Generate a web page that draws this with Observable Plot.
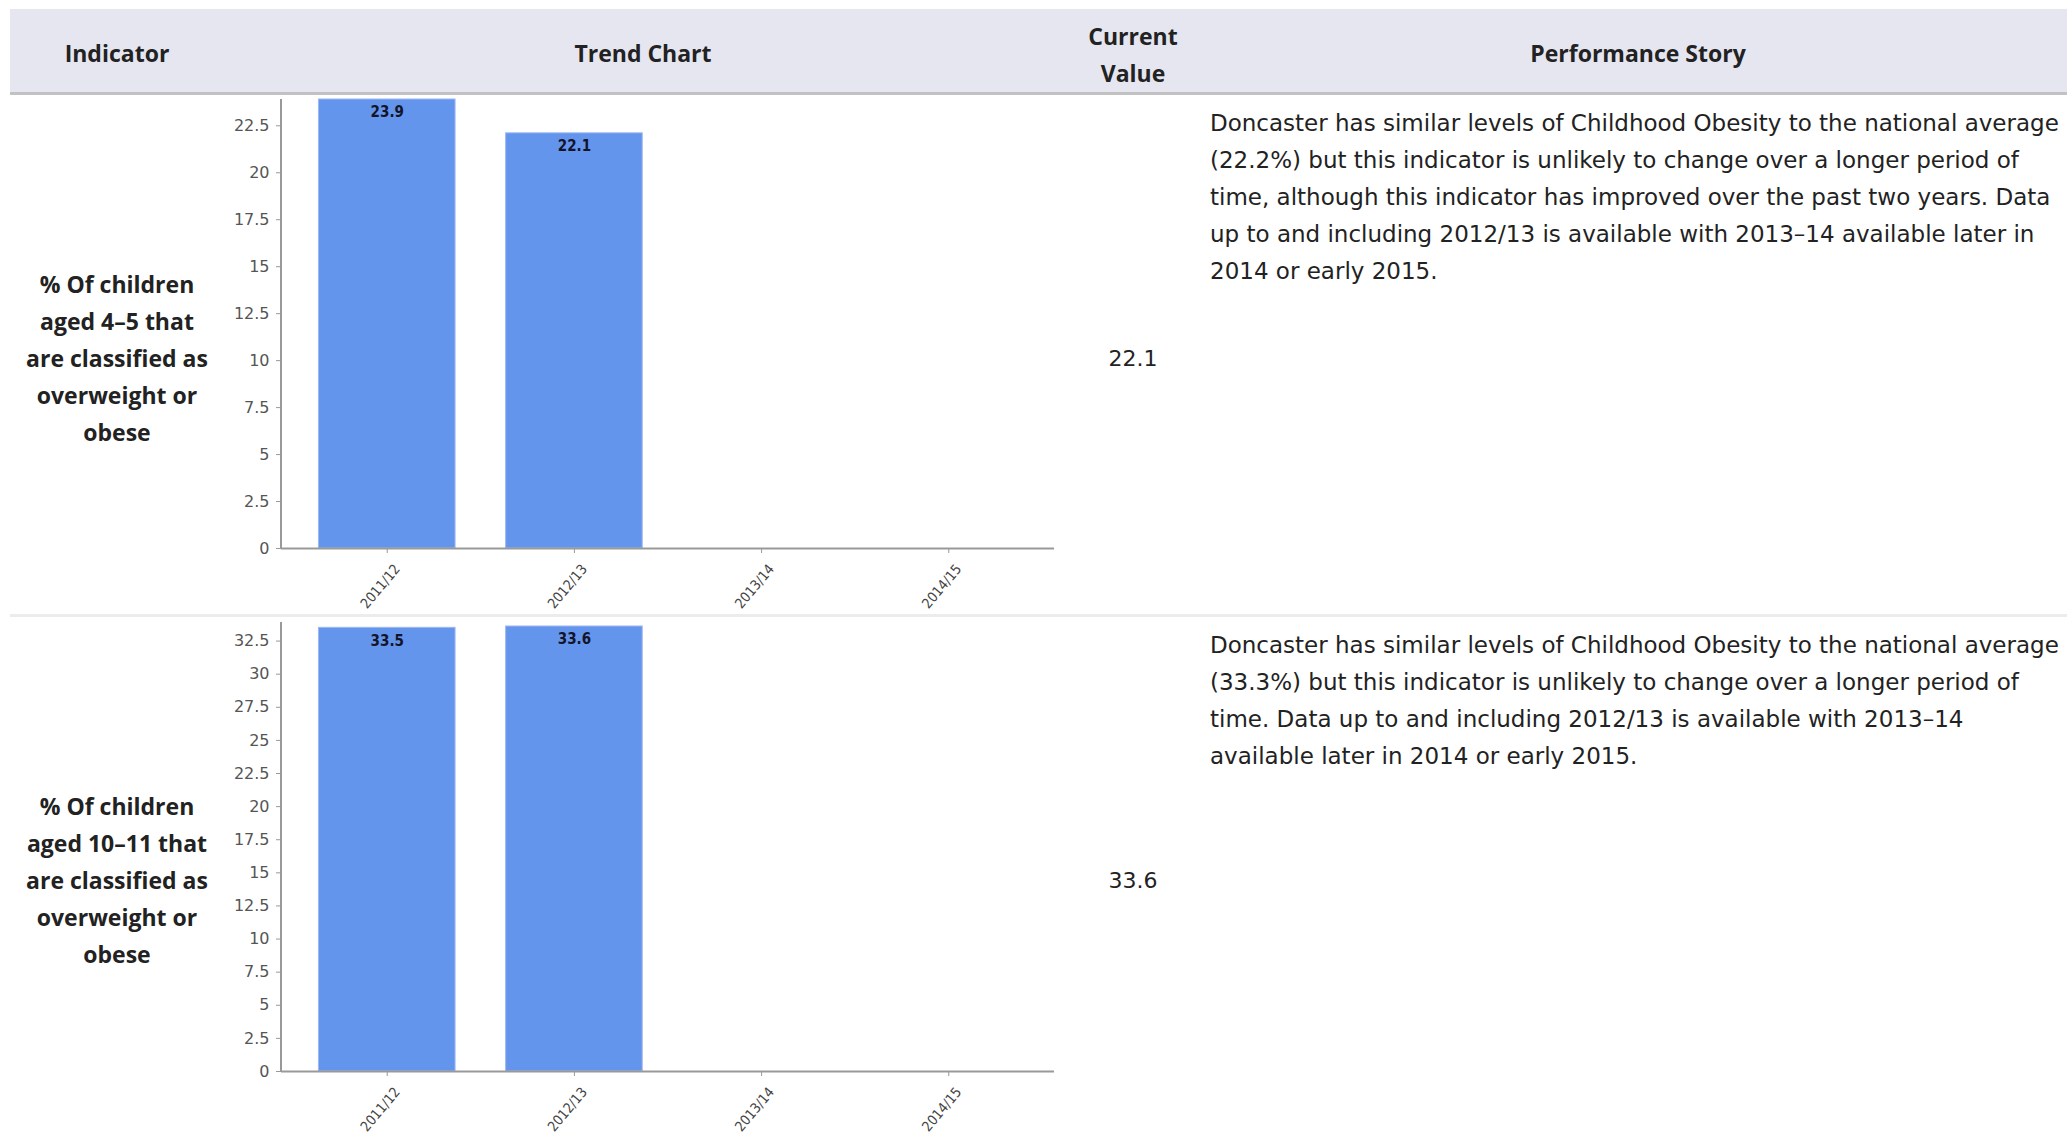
<!DOCTYPE html>
<html>
<head>
<meta charset="utf-8">
<script src="https://cdn.jsdelivr.net/npm/d3@7"></script>
<script src="https://cdn.jsdelivr.net/npm/@observablehq/plot@0.6"></script>
<style>
  body { margin: 0; background: #fff; width: 2067px; height: 1134px; position: relative; overflow: hidden;
         font-family: "Open Sans", sans-serif; color: #222; }
  .abs { position: absolute; }
  #header { left: 10px; top: 9px; width: 2057px; height: 83px; background: #e6e6f0; border-bottom: 3px solid #c2c2c2; }
  .sep { left: 10px; width: 2057px; height: 3px; background: #ececec; }
  .h { font-weight: 700; font-size: 23px; line-height: 37px; text-align: center; white-space: nowrap; }
  .ind { font-weight: 700; font-size: 23px; line-height: 37px; text-align: center; white-space: nowrap; width: 234px; left: 0; }
  .cur { font-family: "DejaVu Sans", sans-serif; font-size: 22px; line-height: 37px; text-align: center; width: 200px; left: 1033px; }
  .story { font-family: "DejaVu Sans", sans-serif; font-size: 23px; line-height: 37px; left: 1210px; white-space: nowrap; }
  .chart { position: absolute; left: 200px; }
</style>
</head>
<body>
<div id="page"></div>
<script>
// Reporting periods shared by both indicators
const periods = ["2011/12", "2012/13", "2013/14", "2014/15"];

// % of children aged 4-5 classified as overweight or obese
const reception = [23.9, 22.1, null, null];
// % of children aged 10-11 classified as overweight or obese
const year6 = [33.5, 33.6, null, null];

const receptionTicks = [0, 2.5, 5, 7.5, 10, 12.5, 15, 17.5, 20, 22.5];
const year6Ticks = [0, 2.5, 5, 7.5, 10, 12.5, 15, 17.5, 20, 22.5, 25, 27.5, 30, 32.5];

const headers = ["Indicator", "Trend Chart", "Current\nValue", "Performance Story"];

const indicatorLabels = [
  ["% Of children", "aged 4\u20135 that", "are classified as", "overweight or", "obese"],
  ["% Of children", "aged 10\u201311 that", "are classified as", "overweight or", "obese"]
];

const currentValues = ["22.1", "33.6"];

const stories = [
  [
    "Doncaster has similar levels of Childhood Obesity to the national average",
    "(22.2%) but this indicator is unlikely to change over a longer period of",
    "time, although this indicator has improved over the past two years. Data",
    "up to and including 2012/13 is available with 2013\u201314 available later in",
    "2014 or early 2015."
  ],
  [
    "Doncaster has similar levels of Childhood Obesity to the national average",
    "(33.3%) but this indicator is unlikely to change over a longer period of",
    "time. Data up to and including 2012/13 is available with 2013\u201314",
    "available later in 2014 or early 2015."
  ]
];

const page = document.getElementById("page");
function div(cls, style, html) {
  const d = document.createElement("div");
  d.className = "abs " + cls;
  Object.assign(d.style, style);
  d.innerHTML = html;
  page.appendChild(d);
  return d;
}

// Table header
div("", {}, "").id = "header";
div("h", {left: "0px", width: "234px", top: "35px"}, headers[0]);
div("h", {left: "443px", width: "400px", top: "35px"}, headers[1]);
div("h", {left: "1033px", width: "200px", top: "18px"}, headers[2].replace("\n", "<br>"));
div("h", {left: "1338px", width: "600px", top: "35px"}, headers[3]);

// Row divider
div("sep", {top: "614px"}, "");

// Row contents
const labelTops = [266, 788];
const valueTops = [340, 862];
const storyTops = [105, 627];
indicatorLabels.forEach((lines, i) => {
  div("ind", {top: labelTops[i] + "px"}, lines.join("<br>"));
  div("cur", {top: valueTops[i] + "px"}, currentValues[i]);
  div("story", {top: storyTops[i] + "px"}, stories[i].join("<br>"));
});

// Trend chart for one indicator
function trendChart(values, ticks, opts) {
  const rows = periods.map((p, i) => ({period: p, value: values[i]}));
  const bars = rows.filter(d => d.value != null);
  const maxV = d3.max(bars, d => d.value);
  const chart = Plot.plot({
    width: 874,
    height: opts.height,
    marginLeft: 81,
    marginRight: 20,
    marginTop: opts.marginTop,
    marginBottom: opts.marginBottom,
    style: {fontFamily: "DejaVu Sans", fontSize: "16px", background: "transparent", overflow: "visible"},
    x: {domain: periods, paddingInner: 0.27, paddingOuter: 0.2, round: false, label: null},
    y: {domain: [0, maxV], label: null},
    marks: [
      Plot.barY(bars, {x: "period", y: "value", fill: "#6495ed", stroke: "#9db8f2", strokeWidth: 1}),
      Plot.text(bars, {
        x: "period", y: "value", text: d => d.value.toFixed(1), dy: 13,
        fill: "#141428", fontSize: 15, fontWeight: 600, fontFamily: "DejaVu Sans Condensed"
      }),
      Plot.axisY({
        ticks, tickFormat: d => String(d), tickSize: 5, tickPadding: 7,
        stroke: "#999", fill: "#555", fontSize: 16
      }),
      // tick marks under each period
      Plot.axisX({tickSize: 5, tickFormat: () => "", stroke: "#999"}),
      // slanted period labels
      Plot.axisX({
        tickSize: 0, tickPadding: 9, tickRotate: -50, fill: "#444",
        fontSize: 14, fontFamily: "DejaVu Sans Condensed", dx: 10, dy: 9
      }),
      Plot.ruleY([0], {stroke: "#999", strokeWidth: 2})
    ]
  });
  // vertical value axis line along the left edge of the plot area
  const y = chart.scale("y");
  d3.select(chart).append("line")
    .attr("x1", 81).attr("x2", 81)
    .attr("y1", y.apply(0)).attr("y2", y.apply(maxV) - opts.axisExtra)
    .attr("stroke", "#999").attr("stroke-width", 2);
  chart.classList.add("chart");
  chart.style.top = opts.top + "px";
  document.body.appendChild(chart);
}

trendChart(reception, receptionTicks, {top: 80, height: 545, marginTop: 19, marginBottom: 77, axisExtra: 0});
trendChart(year6, year6Ticks, {top: 600, height: 534, marginTop: 26, marginBottom: 63, axisExtra: 4});
</script>
</body>
</html>
